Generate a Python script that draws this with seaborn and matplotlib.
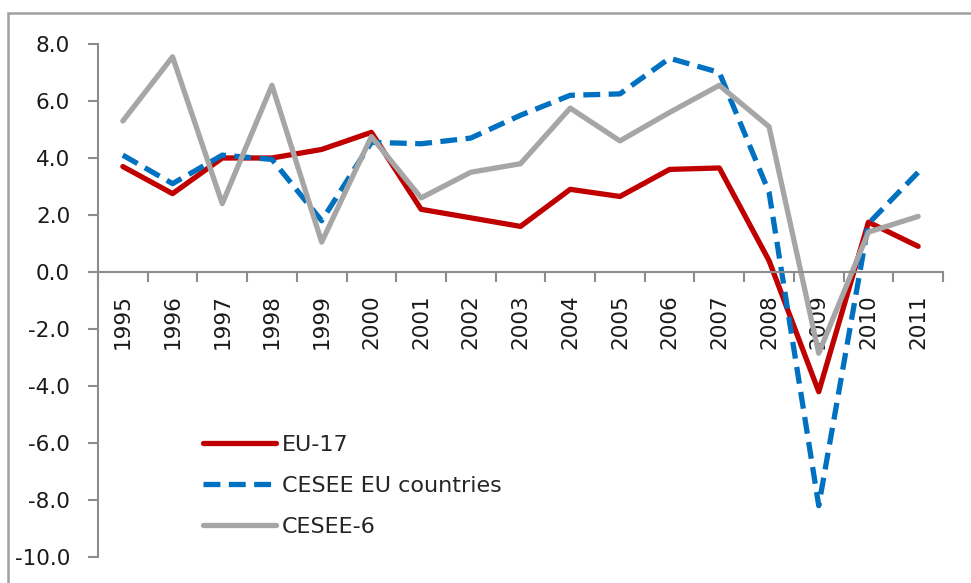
import numpy as np
import pandas as pd
import matplotlib
matplotlib.use("Agg")
import matplotlib.pyplot as plt
from matplotlib.patches import Rectangle
import seaborn as sns

# values
years = list(range(1995, 2012))
eu17 = [3.7, 2.75, 4.0, 4.0, 4.3, 4.9, 2.2, 1.9, 1.6, 2.9, 2.65, 3.6, 3.65, 0.4, -4.2, 1.75, 0.9]
cesee_eu = [4.1, 3.1, 4.1, 3.95, 1.8, 4.55, 4.5, 4.7, 5.5, 6.2, 6.25, 7.5, 7.0, 2.8, -8.2, 1.7, 3.5]
cesee6 = [5.3, 7.55, 2.4, 6.55, 1.05, 4.75, 2.6, 3.5, 3.8, 5.75, 4.6, 5.6, 6.55, 5.1, -2.85, 1.4, 1.95]

series_names = ["EU-17", "CESEE EU countries", "CESEE-6"]
colors = {"EU-17": "#C00000", "CESEE EU countries": "#0070C0", "CESEE-6": "#A6A6A6"}
dash_map = {"EU-17": "", "CESEE EU countries": (3.2, 1.6), "CESEE-6": ""}

df = pd.DataFrame({
    "year": years * 3,
    "value": eu17 + cesee_eu + cesee6,
    "series": ["EU-17"] * 17 + ["CESEE EU countries"] * 17 + ["CESEE-6"] * 17,
})

sns.set_style("white")
plt.rcParams["font.family"] = ["DejaVu Sans"]

fig = plt.figure(figsize=(9.71, 5.83), dpi=100)
ax = fig.add_axes([98 / 971, 1 - 557 / 583, (943 - 98) / 971, (557 - 44) / 583])

sns.lineplot(data=df, x="year", y="value", hue="series", style="series",
             palette=colors, dashes=dash_map, hue_order=series_names,
             style_order=series_names, linewidth=3.8, ax=ax)

ax.set_xlim(1994.5, 2011.5)
ax.set_ylim(-10, 8)
ax.set_xlabel("")
ax.set_ylabel("")

spine_col = "#8C8C8C"
for s in ["top", "right"]:
    ax.spines[s].set_visible(False)
ax.spines["bottom"].set_position(("data", 0))
ax.spines["bottom"].set_color(spine_col)
ax.spines["left"].set_color(spine_col)
ax.spines["bottom"].set_linewidth(1.5)
ax.spines["left"].set_linewidth(1.5)

# x: tick marks between categories, labels at centres
ax.set_xticks(np.arange(1994.5, 2012, 1.0))
ax.set_xticklabels([])
ax.set_xticks(years, minor=True)
ax.set_xticklabels([str(y) for y in years], minor=True, rotation=90, fontsize=15.5,
                   va="top")
ax.tick_params(axis="x", which="major", direction="out", length=7.5, width=1.5,
               color=spine_col, bottom=True)
ax.tick_params(axis="x", which="minor", length=0, pad=16, labelcolor="#1a1a1a")

ax.set_yticks(np.arange(-10, 9, 2))
ax.set_yticklabels([f"{v:.1f}" for v in np.arange(-10, 9, 2)], fontsize=15.5)
ax.tick_params(axis="y", direction="out", length=7.5, width=1.5, color=spine_col,
               left=True, labelcolor="#1a1a1a", pad=12.5)

leg = ax.legend(loc="upper left", bbox_to_anchor=(0.101, 0.277), frameon=False,
                fontsize=16, handlelength=3.25, handletextpad=0.3, labelspacing=0.95)
for line in leg.get_lines():
    line.set_linewidth(3.8)

# outer chart frame
fig.patches.append(Rectangle((8 / 971, -0.1), 1.2, 1 - 13 / 583 + 0.1,
                             transform=fig.transFigure, fill=False,
                             edgecolor="#A0A0A0", linewidth=1.8))

fig.savefig("out.png", dpi=100)
